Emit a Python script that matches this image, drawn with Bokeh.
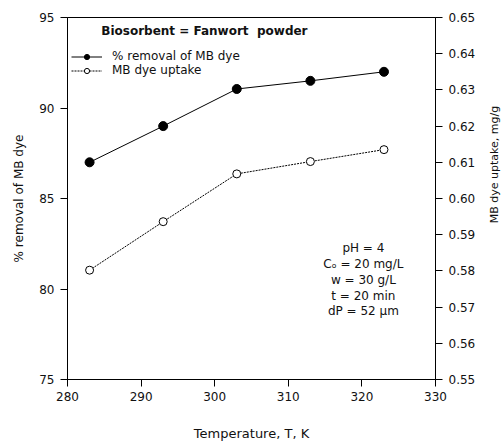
import math
from bokeh.plotting import figure
from bokeh.models import (Range1d, LinearAxis, FixedTicker, PrintfTickFormatter,
                          Label, Legend, LegendItem)
from bokeh.embed import file_html
from bokeh.resources import INLINE

# ---- data ----
temperature = [283, 293, 303, 313, 323]
removal_pct = [87.0, 89.0, 91.05, 91.5, 92.0]
dye_uptake = [0.5802, 0.5936, 0.6068, 0.6102, 0.6135]
x_ticks = [280, 290, 300, 310, 320, 330]
left_ticks = [75, 80, 85, 90, 95]
right_ticks = [0.55, 0.56, 0.57, 0.58, 0.59, 0.60, 0.61, 0.62, 0.63, 0.64, 0.65]
title_text = "Biosorbent = Fanwort\u00a0\u00a0powder"
right_label = "MB dye uptake, mg/g"
cond_lines = ["pH = 4", "C\u2092 = 20 mg/L", "w = 30 g/L", "t = 20 min", "dP = 52 \u00b5m"]

FONT = "DejaVu Sans"

p = figure(width=504, height=448, output_backend="svg", toolbar_location=None,
           x_range=Range1d(280, 330), y_range=Range1d(75, 95),
           min_border_left=67, min_border_right=69, min_border_top=17, min_border_bottom=69)
p.extra_y_ranges = {"right": Range1d(0.55, 0.65)}
p.grid.visible = False
p.outline_line_color = "black"
p.outline_line_width = 1
p.background_fill_color = "white"
p.border_fill_color = "white"

def style_axis(ax):
    ax.axis_line_color = "black"
    ax.major_tick_line_color = "black"
    ax.major_tick_in = 0
    ax.major_tick_out = 7
    ax.minor_tick_line_color = None
    ax.major_label_text_font = FONT
    ax.major_label_text_font_size = "12px"
    ax.major_label_text_color = "#111111"
    ax.axis_label_text_font = FONT
    ax.axis_label_text_font_size = "12px"
    ax.axis_label_text_font_style = "normal"
    ax.axis_label_text_color = "#111111"

xa = p.xaxis[0]
xa.ticker = FixedTicker(ticks=x_ticks)
xa.axis_label = "Temperature, T, K"
style_axis(xa)
xa.axis_label_text_font_size = "13px"
xa.major_label_standoff = 5
xa.axis_label_standoff = 22

ya = p.yaxis[0]
ya.ticker = FixedTicker(ticks=left_ticks)
ya.axis_label = "% removal of MB dye"
style_axis(ya)
ya.major_label_standoff = 6
ya.axis_label_standoff = 10

ra = LinearAxis(y_range_name="right", ticker=FixedTicker(ticks=right_ticks),
                formatter=PrintfTickFormatter(format="%.2f"))
style_axis(ra)
ra.major_label_standoff = 6
p.add_layout(ra, "right")

p.add_layout(Label(x=16, y=215, x_units="screen", y_units="screen", text=right_label,
                   angle=math.pi / 2, text_align="center", text_baseline="middle",
                   text_font=FONT, text_font_size="11px", text_color="#111111"), "right")

l1 = p.line(temperature, removal_pct, line_color="black", line_width=1)
s1 = p.scatter(temperature, removal_pct, marker="circle", size=9,
               fill_color="black", line_color="black")
l2 = p.line(temperature, dye_uptake, y_range_name="right", line_color="black",
            line_width=1, line_dash="2 1")
s2 = p.scatter(temperature, dye_uptake, y_range_name="right", marker="circle", size=8,
               fill_color="white", line_color="black", line_width=1)

legend = Legend(items=[LegendItem(label="% removal of MB dye", renderers=[l1, s1]),
                       LegendItem(label="MB dye uptake", renderers=[l2, s2])],
                location=(4, 302), background_fill_alpha=0, border_line_color=None,
                padding=0, margin=0, spacing=0, glyph_width=31, glyph_height=13,
                label_height=13, label_standoff=10,
                label_text_font=FONT, label_text_font_size="12px", label_text_color="#111111")
p.add_layout(legend, "center")

p.add_layout(Label(x=298.6, y=94.27, text=title_text, text_align="center",
                   text_baseline="middle", text_font=FONT, text_font_size="12px",
                   text_font_style="bold", text_color="#111111"))

cond_y = [82.24, 81.36, 80.47, 79.64, 78.76]
for t, yy in zip(cond_lines, cond_y):
    p.add_layout(Label(x=320.2, y=yy, text=t, text_align="center", text_baseline="middle",
                       text_font=FONT, text_font_size="12px", text_color="#111111"))

open("out.html", "w").write(file_html(p, INLINE))
